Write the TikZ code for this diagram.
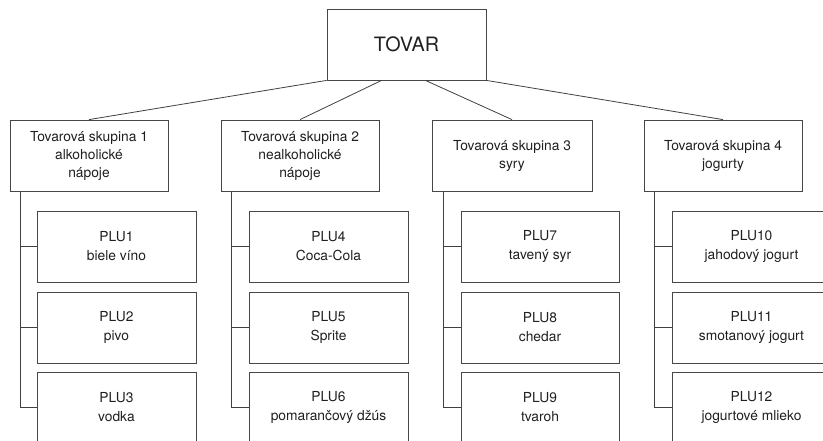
\documentclass[tikz,border=0pt]{standalone}
\usepackage{fontspec}
\setmainfont{TeX Gyre Heros}
\begin{document}
\begin{tikzpicture}[x=1pt,y=-1pt,
  box/.style={draw=black!72,line width=0.8pt,rectangle,inner sep=0pt,
    minimum width=158pt,minimum height=71pt,align=center,
    font=\fontsize{13.8}{18}\selectfont,text=black!88},
  plubox/.style={box,minimum width=159pt,font=\fontsize{13.8}{19}\selectfont},
  topbox/.style={box,minimum width=159pt,font=\fontsize{19.8}{22}\selectfont},
  link/.style={draw=black!75,line width=0.8pt}]
\useasboundingbox (0,0) rectangle (823,441);
\clip (0,0) rectangle (823,441);
\node[topbox] (tovar) at (406.5,44.5) {TOVAR};
\node[box] (g1) at (89,155.5) {Tovarová skupina 1\\alkoholické\\nápoje};
\node[box] (g2) at (300,155.5) {Tovarová skupina 2\\nealkoholické\\nápoje};
\node[box,minimum width=160pt] (g3) at (512,155.5) {Tovarová skupina 3\\syry};
\node[box] (g4) at (723,155.5) {Tovarová skupina 4\\jogurty};
\node[plubox] (p1) at (116.5,246.5) {PLU1\\biele víno};
\node[plubox] (p2) at (116.5,327.5) {PLU2\\pivo};
\node[plubox] (p3) at (116.5,407.5) {PLU3\\vodka};
\node[plubox] (p4) at (328.5,246.5) {PLU4\\Coca-Cola};
\node[plubox] (p5) at (328.5,327.5) {PLU5\\Sprite};
\node[plubox] (p6) at (328.5,407.5) {PLU6\\pomarančový džús};
\node[plubox,minimum width=158pt] (p7) at (540,246.5) {PLU7\\tavený syr};
\node[plubox,minimum width=158pt] (p8) at (540,327.5) {PLU8\\chedar};
\node[plubox,minimum width=158pt] (p9) at (540,407.5) {PLU9\\tvaroh};
\node[plubox] (p10) at (751.5,246.5) {PLU10\\jahodový jogurt};
\node[plubox] (p11) at (751.5,327.5) {PLU11\\smotanový jogurt};
\node[plubox] (p12) at (751.5,407.5) {PLU12\\jogurtové mlieko};
\draw[link] (tovar.south west) -- (g1.north);
\draw[link] ([xshift=55pt]tovar.south west) -- (g2.north);
\draw[link] ([xshift=-61pt]tovar.south east) -- (g3.north);
\draw[link] (tovar.south east) -- (g4.north);
\foreach \g/\a/\b/\c/\s in {g1/p1/p2/p3/11, g2/p4/p5/p6/11, g3/p7/p8/p9/12, g4/p10/p11/p12/11}{
  \draw[link] ([xshift=\s pt]\g.south west) |- (\a.west);
  \draw[link] ([xshift=\s pt]\g.south west) |- (\b.west);
  \draw[link] ([xshift=\s pt]\g.south west) |- (\c.west);
}
\end{tikzpicture}
\end{document}
